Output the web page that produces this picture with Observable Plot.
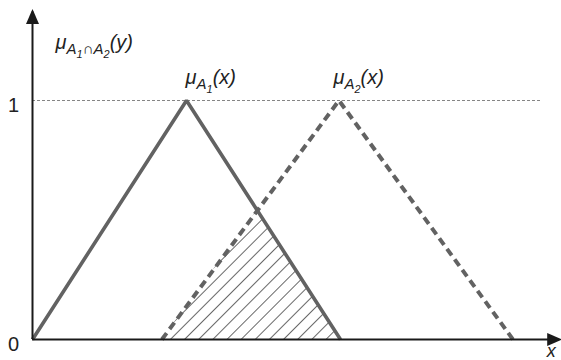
<!DOCTYPE html>
<html><head><meta charset="utf-8">
<script src="https://cdn.jsdelivr.net/npm/d3@7"></script>
<script src="https://cdn.jsdelivr.net/npm/@observablehq/plot@0.6"></script>
<style>body{margin:0;background:#fff} svg{display:block}</style>
</head><body><div id="chart"></div>
<script>
// Membership functions (x in arbitrary units, y = membership degree)
const a1X = [0, 5, 10];
const a1Y = [0, 1, 0];
const a2X = [4.2, 9.95, 15.6];
const a2Y = [0, 1, 0];
// Axis extents (arrow tips)
const axisEndX = 17.1;
const axisEndY = 1.37;
// Reference line at membership 1
const refLineY = 1;
const refLineEnd = 16.5;
// Tick labels on the y axis
const tickValues = [0, 1];
const tickLabels = ["0", "1"];
// Formula labels: runs of [text, level] (0 = normal, 1 = subscript, 2 = sub-subscript)
const labelX = [0.75, 4.97, 9.77];
const labelY = [1.23, 1.084, 1.084];
const labelRuns = [
  [["μ", 0], ["A", 1], ["1", 2], ["∩", 1], ["A", 1], ["2", 2], ["(y)", 0]],
  [["μ", 0], ["A", 1], ["1", 2], ["(x)", 0]],
  [["μ", 0], ["A", 1], ["2", 2], ["(x)", 0]]
];
const xAxisLabel = ["x"];

const a1 = a1X.map((x, i) => ({x, y: a1Y[i]}));
const a2 = a2X.map((x, i) => ({x, y: a2Y[i]}));

// Intersection of A1's falling edge and A2's rising edge -> hatched min(A1, A2)
function intersect(p1, p2, p3, p4) {
  const m1 = (p2.y - p1.y) / (p2.x - p1.x), m2 = (p4.y - p3.y) / (p4.x - p3.x);
  const x = (p3.y - p1.y + m1 * p1.x - m2 * p3.x) / (m1 - m2);
  return {x, y: p1.y + m1 * (x - p1.x)};
}
const ip = intersect(a1[1], a1[2], a2[0], a2[1]);
const overlap = [{x: a2[0].x, y: 0}, ip, {x: a1[2].x, y: 0}];

const ink = "#1a1a1a";
const lineGray = "#626262";
const textInk = "#222";
const fontFamily = "'Liberation Sans', Arial, sans-serif";

const arrowHead = {
  draw(ctx) {
    ctx.moveTo(0, -3);
    ctx.lineTo(6.5, 12);
    ctx.lineTo(-6.5, 12);
    ctx.closePath();
  }
};

const levelSize = [20, 15, 11];
const levelShift = [0, 5, 9];

const chart = Plot.plot({
  width: 561,
  height: 360,
  x: {domain: [0, 17.11], range: [32, 559], axis: null},
  y: {domain: [0, 1], range: [339, 100], axis: null},
  style: {background: "#fff", fontFamily},
  marks: [
    () => {
      const defs = d3.create("svg:defs");
      const p = defs.append("pattern")
        .attr("id", "hatch")
        .attr("patternUnits", "userSpaceOnUse")
        .attr("width", 10).attr("height", 10)
        .attr("patternTransform", "rotate(45)");
      p.append("line").attr("x1", 0).attr("y1", -1).attr("x2", 0).attr("y2", 11)
        .attr("stroke", "#262626").attr("stroke-width", 1.4);
      return defs.node();
    },
    Plot.areaY(overlap, {x: "x", y: "y", fill: "url(#hatch)", curve: "linear"}),
    Plot.ruleY([refLineY], {x1: 0, x2: refLineEnd, stroke: "#858585", strokeWidth: 1, strokeDasharray: "3,2"}),
    Plot.line(a1, {x: "x", y: "y", stroke: lineGray, strokeWidth: 3.6, strokeLinejoin: "miter", strokeLinecap: "butt"}),
    Plot.line(a2, {x: "x", y: "y", stroke: lineGray, strokeWidth: 4, strokeDasharray: "8,5", strokeLinejoin: "miter", strokeLinecap: "butt"}),
    Plot.ruleY([0], {x1: 0, x2: axisEndX, stroke: ink, strokeWidth: 2}),
    Plot.ruleX([0], {y1: 0, y2: axisEndY, stroke: ink, strokeWidth: 2}),
    Plot.dot([{x: axisEndX, y: 0, r: 90}, {x: 0, y: axisEndY, r: 0}],
      {x: "x", y: "y", rotate: "r", symbol: arrowHead, fill: ink, stroke: "none", r: 6}),
    Plot.text(tickValues, {x: 0, y: d => d, text: (d, i) => tickLabels[i], dx: -19, dy: 5,
      fontSize: 20, fill: textInk, textAnchor: "middle"}),
    Plot.text(xAxisLabel, {x: axisEndX, y: 0, text: d => d, dx: -8, dy: 12,
      fontSize: 18, fontStyle: "italic", fill: textInk, textAnchor: "middle"}),
    Plot.text(labelRuns.map((_, i) => i), {
      x: i => labelX[i], y: i => labelY[i],
      text: i => labelRuns[i].map(r => r[0]).join(""),
      textAnchor: "start", fill: textInk,
      render(index, scales, values, dims, context, next) {
        const g = next(index, scales, values, dims, context);
        d3.select(g).selectAll("text").each(function(_, j) {
          const i = index[j];
          const t = d3.select(this).attr("dy", null).text("");
          let cur = 0;
          for (const [s, lvl] of labelRuns[i]) {
            t.append("tspan")
              .attr("dy", levelShift[lvl] - cur)
              .attr("font-size", levelSize[lvl])
              .attr("font-style", "italic")
              .text(s);
            cur = levelShift[lvl];
          }
        });
        return g;
      }
    })
  ]
});
document.getElementById("chart").appendChild(chart);
</script>
</body></html>
